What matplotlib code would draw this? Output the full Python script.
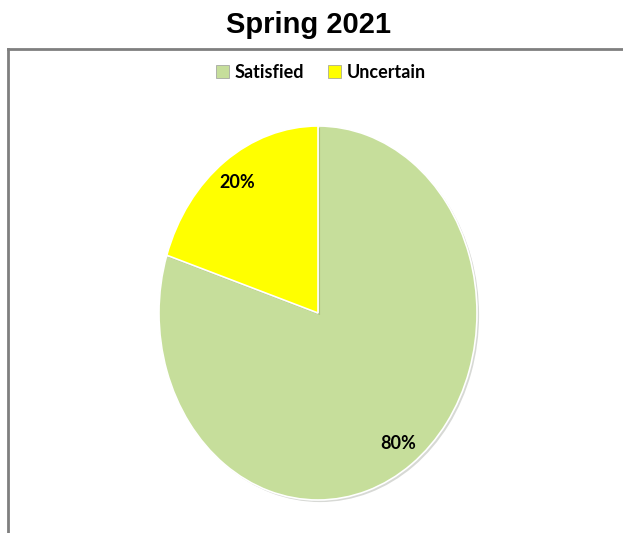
import matplotlib.pyplot as plt
import matplotlib.patheffects as pe
from matplotlib.lines import Line2D
from matplotlib.patches import Patch

# Survey responses
labels = ["Satisfied", "Uncertain"]
shares = [80, 20]
colors = ["#C6DE9B", "#FFFF00"]

W, H = 623, 533
fig = plt.figure(figsize=(W / 100, H / 100), dpi=100)
fig.patch.set_facecolor("white")

# Chart frame (top and left edges only are visible)
fig.add_artist(Line2D([8 / W, 1.0], [1 - 49 / H, 1 - 49 / H], color="#7f7f7f", lw=2.0))
fig.add_artist(Line2D([8 / W, 8 / W], [1 - 49 / H, 0.0], color="#7f7f7f", lw=2.0))

fig.text(308 / W, 1 - 25 / H, "Spring 2021", ha="center", va="center",
         fontsize=21, fontweight="bold", family="Liberation Sans")

# Pie axes, stretched vertically so the pie is slightly elliptical
px_l, px_r, px_t, px_b = 159, 477, 126, 500
ax = fig.add_axes([px_l / W, 1 - px_b / H, (px_r - px_l) / W, (px_b - px_t) / H])
wedges, texts, autotexts = ax.pie(
    shares, colors=colors, startangle=90, counterclock=False,
    autopct="%d%%", pctdistance=0.86, radius=1.0,
    wedgeprops=dict(edgecolor="white", linewidth=1.2),
    textprops=dict(fontsize=13, fontweight="bold", family="Lato", color="black"))
for w in wedges:
    w.set_path_effects([pe.SimplePatchShadow(offset=(1.5, -1.5), alpha=0.2), pe.Normal()])
ax.set_aspect("auto")
ax.set_xlim(-1, 1)
ax.set_ylim(-1, 1)
ax.axis("off")

handles = [Patch(facecolor=c, edgecolor="#9a9a9a", linewidth=0.5) for c in colors]
fig.legend(handles, labels, loc="center", bbox_to_anchor=(321 / W, 1 - 72 / H),
           ncol=2, frameon=False, handlelength=0.7, handleheight=0.7,
           handletextpad=0.35, columnspacing=1.3,
           prop=dict(family="Lato", weight="bold", size=13))

fig.savefig("out.png", dpi=100)
